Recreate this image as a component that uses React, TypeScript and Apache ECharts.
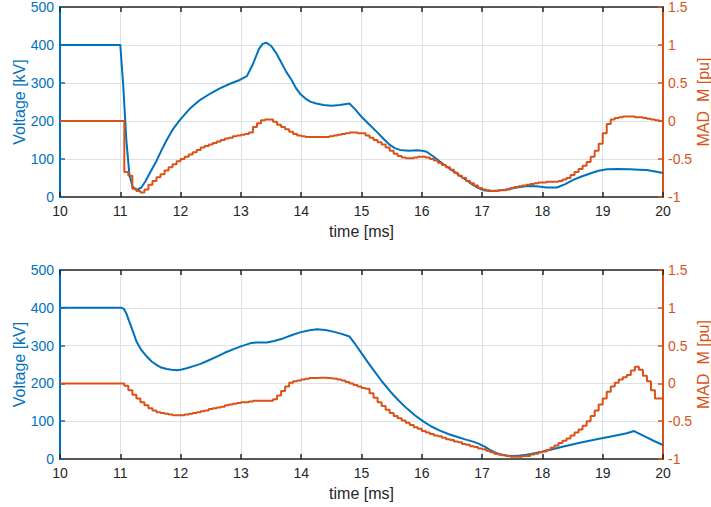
import React, { useEffect, useRef } from "react";
import * as echarts from "echarts";

// ---------- data ----------
const X_TICKS = [10, 11, 12, 13, 14, 15, 16, 17, 18, 19, 20];

// Top plot: voltage [kV]
const topVoltT = [10, 11.0, 11.01, 11.05, 11.1, 11.15, 11.2, 11.27, 11.35, 11.42, 11.49, 11.6, 11.68, 11.77, 11.88, 12.0, 12.15, 12.32, 12.5, 12.65, 12.82, 12.98, 13.1, 13.2, 13.3, 13.36, 13.42, 13.5, 13.58, 13.65, 13.75, 13.84, 13.92, 13.98, 14.07, 14.15, 14.25, 14.37, 14.5, 14.64, 14.8, 14.9, 15.0, 15.12, 15.25, 15.36, 15.47, 15.56, 15.64, 15.78, 15.92, 16.0, 16.08, 16.18, 16.3, 16.44, 16.58, 16.72, 16.85, 16.95, 17.02, 17.13, 17.27, 17.41, 17.58, 17.74, 17.9, 18.07, 18.24, 18.38, 18.51, 18.65, 18.79, 18.93, 19.07, 19.25, 19.45, 19.6, 19.73, 19.87, 20.0];
const topVoltV = [400, 400, 400, 290, 150, 60, 28, 18, 25, 42, 63, 95, 122, 150, 180, 205, 232, 255, 273, 286, 298, 308, 318, 350, 390, 403, 406, 398, 380, 360, 330, 308, 285, 272, 259, 251, 246, 242, 240, 242, 246, 230, 211, 192, 172, 154, 137, 128, 124, 122, 123, 122, 119, 108, 93, 77, 62, 46, 32, 23, 18, 16, 17, 20, 25, 29, 28, 25, 25, 34, 45, 54, 62, 69, 73, 74, 73, 72, 71, 67, 63];

// Bottom plot: voltage [kV]
const botVoltT = [10, 11.02, 11.06, 11.1, 11.16, 11.22, 11.27, 11.35, 11.44, 11.52, 11.6, 11.68, 11.77, 11.85, 11.94, 12.02, 12.1, 12.2, 12.32, 12.45, 12.6, 12.73, 12.87, 13.0, 13.15, 13.25, 13.43, 13.55, 13.7, 13.85, 13.98, 14.12, 14.26, 14.4, 14.53, 14.67, 14.8, 14.9, 15.0, 15.1, 15.2, 15.34, 15.48, 15.62, 15.75, 15.89, 16.03, 16.16, 16.3, 16.44, 16.58, 16.72, 16.85, 16.95, 17.05, 17.13, 17.22, 17.3, 17.41, 17.52, 17.63, 17.74, 17.87, 18.0, 18.35, 18.62, 18.9, 19.18, 19.4, 19.52, 19.62, 19.73, 19.86, 20.0];
const botVoltV = [400, 400, 397, 385, 359, 333, 310, 288, 271, 258, 249, 242, 238, 236, 235, 237, 240, 245, 251, 260, 271, 281, 290, 298, 306, 308, 308, 312, 319, 328, 335, 340, 343, 341, 337, 331, 324, 303, 280, 257, 235, 205, 178, 154, 134, 115, 99, 86, 75, 66, 59, 52, 46, 40, 32, 24, 17, 12, 9, 8, 9, 11, 15, 19, 33, 43, 52, 61, 68, 74, 66, 57, 47, 37];

// MAD_M [pu], sampled (stairs) from 11 ms every 1/15 ms
const MAD_T0 = 11;
const MAD_DT = 1 / 15;
const topMad = [
  0, -0.67, -0.72, -0.89, -0.92, -0.94, -0.9, -0.84, -0.79, -0.74, -0.7, -0.65, -0.61, -0.57, -0.53,
  -0.5, -0.47, -0.44, -0.41, -0.38, -0.35, -0.33, -0.31, -0.29, -0.27, -0.25, -0.23, -0.22, -0.2, -0.19,
  -0.18, -0.17, -0.15, -0.08, -0.03, 0.01, 0.02, 0.02, -0.01, -0.05, -0.08, -0.11, -0.14, -0.17, -0.19,
  -0.2, -0.21, -0.21, -0.21, -0.21, -0.21, -0.21, -0.2, -0.19, -0.18, -0.17, -0.16, -0.15, -0.15, -0.16,
  -0.16, -0.19, -0.22, -0.25, -0.28, -0.31, -0.35, -0.39, -0.43, -0.46, -0.48, -0.49, -0.49, -0.48, -0.47,
  -0.47, -0.48, -0.5, -0.52, -0.55, -0.58, -0.61, -0.64, -0.68, -0.72, -0.75, -0.79, -0.82, -0.85, -0.88,
  -0.9, -0.91, -0.92, -0.92, -0.91, -0.91, -0.9, -0.88, -0.87, -0.86, -0.85, -0.84, -0.83, -0.82, -0.81,
  -0.81, -0.8, -0.8, -0.8, -0.79, -0.77, -0.75, -0.71, -0.67, -0.63, -0.59, -0.54, -0.47, -0.39, -0.3,
  -0.16, -0.04, 0.02, 0.04, 0.05, 0.06, 0.06, 0.06, 0.05, 0.05, 0.04, 0.03, 0.02, 0.01, 0.0,
  -0.01,
];
const botMad = [
  0, -0.03, -0.09, -0.15, -0.2, -0.25, -0.29, -0.33, -0.36, -0.38, -0.39, -0.4, -0.41, -0.42, -0.42,
  -0.42, -0.41, -0.4, -0.39, -0.38, -0.37, -0.36, -0.34, -0.33, -0.32, -0.31, -0.29, -0.28, -0.27, -0.26,
  -0.25, -0.25, -0.24, -0.23, -0.23, -0.23, -0.23, -0.23, -0.21, -0.16, -0.1, -0.04, 0.01, 0.03, 0.04,
  0.05, 0.06, 0.07, 0.07, 0.075, 0.075, 0.07, 0.065, 0.06, 0.05, 0.04, 0.02, 0.0, -0.02, -0.04,
  -0.06, -0.07, -0.13, -0.19, -0.25, -0.3, -0.35, -0.39, -0.43, -0.46, -0.49, -0.52, -0.55, -0.58, -0.6,
  -0.63, -0.65, -0.67, -0.69, -0.7, -0.72, -0.74, -0.75, -0.77, -0.78, -0.8, -0.81, -0.83, -0.84, -0.86,
  -0.87, -0.89, -0.91, -0.93, -0.94, -0.95, -0.96, -0.97, -0.97, -0.97, -0.96, -0.96, -0.94, -0.93, -0.91,
  -0.9, -0.88, -0.85, -0.82, -0.79, -0.76, -0.73, -0.69, -0.65, -0.61, -0.56, -0.5, -0.43, -0.36, -0.28,
  -0.2, -0.11, -0.04, 0.01, 0.05, 0.08, 0.11, 0.17, 0.22, 0.18, 0.1, 0.03, -0.09, -0.2, -0.2,
  -0.2,
];
const MAD_START = [10, 0];
const RIGHT_NAME = "MAD_M [pu]";

// ---------- styles ----------
const BLUE = "#0072BD";
const ORANGE = "#D95319";
const DARK = "#262626";
const GRIDC = "#dde0e5";
const FONT = "Liberation Sans, Arial, Helvetica, sans-serif";

const pairs = (t: number[], v: number[]) => t.map((x, i) => [x, v[i]]);
const madPairs = (v: number[]) => [MAD_START, ...v.map((y, i) => [MAD_T0 + i * MAD_DT, y])];

function xAxes(gridIndex: number) {
  const common = {
    type: "value",
    gridIndex,
    min: X_TICKS[0],
    max: X_TICKS[X_TICKS.length - 1],
    interval: 1,
    axisLine: { onZero: false, lineStyle: { color: DARK, width: 1.5 } },
    axisTick: { inside: true, length: 5, lineStyle: { color: DARK, width: 1.5 } },
  };
  return [
    {
      ...common,
      position: "bottom",
      name: "time [ms]",
      nameLocation: "middle",
      nameGap: 26,
      nameTextStyle: { color: DARK, fontSize: 16, fontFamily: FONT },
      axisLabel: { color: DARK, fontSize: 14, fontFamily: FONT, margin: 7 },
      splitLine: { show: true, lineStyle: { color: GRIDC, width: 1 } },
    },
    {
      ...common,
      position: "top",
      axisLabel: { show: false },
      splitLine: { show: false },
    },
  ];
}

function yAxes(gridIndex: number) {
  return [
    {
      type: "value",
      gridIndex,
      position: "left",
      min: 0,
      max: 500,
      interval: 100,
      name: "Voltage [kV]",
      nameLocation: "middle",
      nameRotate: 90,
      nameGap: 33,
      nameMoveOverlap: false,
      nameTextStyle: { color: BLUE, fontSize: 16, fontFamily: FONT },
      axisLine: { show: true, onZero: false, lineStyle: { color: BLUE, width: 2 } },
      axisTick: { show: true, inside: true, length: 5, lineStyle: { color: BLUE, width: 1.5 } },
      axisLabel: { color: BLUE, fontSize: 14, fontFamily: FONT, margin: 6 },
      splitLine: { show: true, lineStyle: { color: GRIDC, width: 1 } },
    },
    {
      type: "value",
      gridIndex,
      position: "right",
      min: -1,
      max: 1.5,
      interval: 0.5,
      axisLine: { show: true, onZero: false, lineStyle: { color: ORANGE, width: 2 } },
      axisTick: { show: true, inside: true, length: 5, lineStyle: { color: ORANGE, width: 1.5 } },
      axisLabel: { color: ORANGE, fontSize: 14, fontFamily: FONT, margin: 5 },
      splitLine: { show: false },
    },
  ];
}

function rightName(y: number) {
  return {
    type: "text",
    x: 703,
    y,
    rotation: Math.PI / 2,
    style: {
      text: RIGHT_NAME,
      fill: ORANGE,
      font: `16px ${FONT}`,
      align: "center",
      verticalAlign: "middle",
    },
  };
}

export default function App() {
  const ref = useRef<HTMLDivElement>(null);
  useEffect(() => {
    if (!ref.current) return;
    const chart = echarts.init(ref.current, undefined, { renderer: "svg" });
    chart.setOption({
      animation: false,
      backgroundColor: "#ffffff",
      textStyle: { fontFamily: FONT },
      grid: [
        { left: 60, top: 7, width: 603, height: 190, containLabel: false, outerBoundsMode: "none" },
        { left: 60, top: 270, width: 603, height: 189, containLabel: false, outerBoundsMode: "none" },
      ],
      xAxis: [...xAxes(0), ...xAxes(1)],
      yAxis: [...yAxes(0), ...yAxes(1)],
      graphic: [rightName(102), rightName(364.5)],
      series: [
        {
          type: "line",
          xAxisIndex: 0,
          yAxisIndex: 0,
          data: pairs(topVoltT, topVoltV),
          showSymbol: false,
          lineStyle: { color: BLUE, width: 2, join: "round" },
          itemStyle: { color: BLUE },
        },
        {
          type: "line",
          xAxisIndex: 0,
          yAxisIndex: 1,
          step: "end",
          data: madPairs(topMad),
          showSymbol: false,
          lineStyle: { color: ORANGE, width: 2 },
          itemStyle: { color: ORANGE },
        },
        {
          type: "line",
          xAxisIndex: 2,
          yAxisIndex: 2,
          data: pairs(botVoltT, botVoltV),
          showSymbol: false,
          lineStyle: { color: BLUE, width: 2, join: "round" },
          itemStyle: { color: BLUE },
        },
        {
          type: "line",
          xAxisIndex: 2,
          yAxisIndex: 3,
          step: "end",
          data: madPairs(botMad),
          showSymbol: false,
          lineStyle: { color: ORANGE, width: 2 },
          itemStyle: { color: ORANGE },
        },
      ],
    });
    return () => chart.dispose();
  }, []);
  return (
    <div
      ref={ref}
      style={{ position: "absolute", left: 0, top: 0, width: 711, height: 507, background: "#fff" }}
    />
  );
}
